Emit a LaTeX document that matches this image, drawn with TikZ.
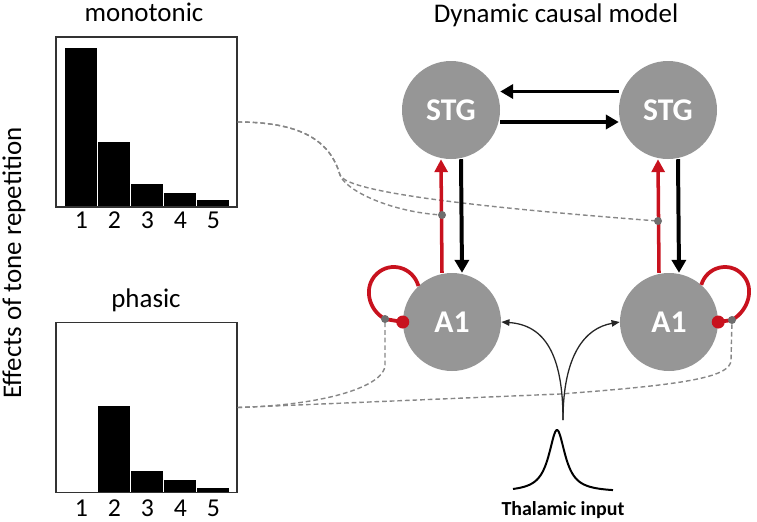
\documentclass[tikz,border=0pt]{standalone}
\usepackage{fontspec}
\setmainfont{Carlito}
\usepackage{xcolor}
\usepackage{tikz}
\usetikzlibrary{arrows.meta,calc,positioning}
\definecolor{rojo}{RGB}{200,18,30}
\definecolor{gris}{RGB}{150,150,150}
\definecolor{grisos}{RGB}{110,110,110}
\tikzset{
  area/.style={circle,fill=gris,text=white,font=\fontsize{27}{30}\selectfont\bfseries,minimum size=2.94cm,inner sep=0pt},
  caja/.style={draw=black!80,line width=0.9pt,minimum width=5.43cm,minimum height=5.1cm,inner sep=0pt},
  fwd/.style={-{Triangle[length=11pt,width=11pt]},rojo,line width=3pt},
  bwd/.style={-{Triangle[length=11pt,width=12pt]},black,line width=3.4pt},
  lazo/.style={rojo,line width=3.2pt},
  lnk/.style={gris!90!black,line width=1.2pt,dash pattern=on 4pt off 2.5pt},
  thal/.style={-{Triangle[length=7pt,width=5.5pt]},black!85,line width=1.1pt},
  pt/.style={circle,fill=grisos,inner sep=0pt,minimum size=0.24cm},
  rpt/.style={circle,fill=rojo,inner sep=0pt,minimum size=0.39cm},
  tit/.style={font=\fontsize{23}{26}\selectfont,anchor=base},
  num/.style={font=\fontsize{22}{24}\selectfont,anchor=base}
}

\begin{document}
\begin{tikzpicture}[x=0.03cm,y=-0.03cm]
\useasboundingbox (0,0) rectangle (757,521);
% bar charts
\foreach \i/\h in {1/48,2/142,3/184,4/193,5/200}{\fill (32+33*\i,207) rectangle (64+33*\i,\h);}
\foreach \i/\h in {2/405.7,3/470.7,4/480,5/487.7}{\fill (32+33*\i,492) rectangle (64+33*\i,\h);}
\foreach \i in {1,...,5}{\node[num] (nm\i) at (48.5+33*\i,228) {\i}; \node[num] (nf\i) at (48.5+33*\i,516) {\i};}
\node[caja] (mono) at (146.5,122) {};
\node[caja] (fasico) at (146.5,407.5) {};
\node[tit] (tmono) at (144,21) {monotonic};
\node[tit] (tfas) at (146,307) {phasic};
\node[font=\fontsize{23}{26}\selectfont,rotate=90] (eje) at (14,263) {Effects of tone repetition};
\node[tit] (tdcm) at (556,22) {Dynamic causal model};
% regions
\node[area] (stgL) at (451,110) {STG};
\node[area] (stgR) at (668,110) {STG};
\node[area] (a1L) at (452,322) {A1};
\node[area] (a1R) at (669,322) {A1};
\coordinate (gL) at (442,215); \coordinate (gR) at (658,221);
\coordinate (dgL) at (385,319); \coordinate (dgR) at (732,320);
\coordinate (cruce) at (340,175);
% dashed links
\draw[lnk] (mono.east) .. controls (300,122) and (330,140) .. (cruce) .. controls (345,190) and (390,212) .. (gL);
\draw[lnk] (mono.east) .. controls (300,122) and (330,140) .. (cruce) .. controls (345,188) and (420,203) .. (gR);
\draw[lnk] (fasico.east) .. controls (330,405) and (385,385) .. (385,365) -- (dgL);
\draw[lnk] (fasico.east) -- (560,394) .. controls (680,385) and (731,378) .. (731,360) -- (dgR);
% connections
\draw[bwd] ([yshift=0.555cm]stgR.west) -- ([yshift=0.555cm]stgL.east);
\draw[bwd] ([yshift=-0.36cm]stgL.east) -- ([yshift=-0.36cm]stgR.west);
\draw[fwd] ([xshift=-0.3cm]a1L.north) -- ([xshift=-0.3cm]stgL.south);
\draw[bwd] ([xshift=0.3cm]stgL.south) -- ([xshift=0.3cm]a1L.north);
\draw[fwd] ([xshift=-0.3cm]a1R.north) -- ([xshift=-0.3cm]stgR.south);
\draw[bwd] ([xshift=0.3cm]stgR.south) -- ([xshift=0.3cm]a1R.north);
% self connections
\draw[lazo] (a1L.133) .. controls (412.8,266.8) and (390.2,260.9) .. (376.6,274) .. controls (363,287.1) and (368.3,310) .. (dgL) -- (a1L.west);
\draw[lazo] (a1R.49) .. controls (706.7,266.6) and (729.5,260.9) .. (742.4,274.5) .. controls (755.3,288.1) and (748.4,310.6) .. (dgR) -- (a1R.east);
\node[rpt] (rdL) at (a1L.west) {}; \node[rpt] (rdR) at (a1R.east) {};
\node[pt] (pL) at (dgL) {}; \node[pt] (pR) at (dgR) {};
\node[pt] (pgL) at (gL) {}; \node[pt] (pgR) at (gR) {};
% thalamic input
\coordinate (tbase) at (563,420);
\draw[thal] (tbase) .. controls (563,355) and (545,325) .. (a1L.east);
\draw[thal] (tbase) .. controls (563,355) and (585,328) .. (a1R.west);
\draw[line width=1.7pt] plot[domain=-44:56,samples=100,smooth] ({557+\x},{492-62/(1+(\x/10)*(\x/10))});
\node[font=\fontsize{17}{20}\selectfont\bfseries,anchor=base] (tin) at (563,515) {Thalamic input};
\end{tikzpicture}
\end{document}
